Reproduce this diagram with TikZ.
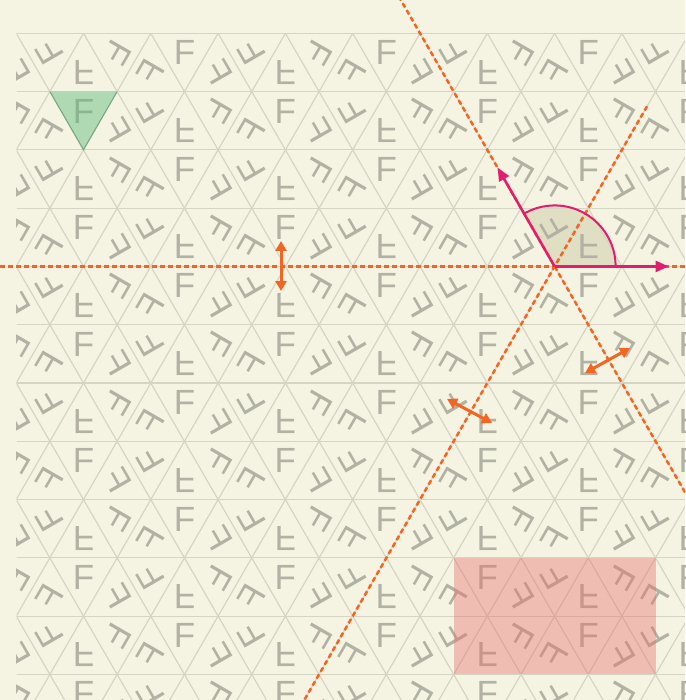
\documentclass[tikz,border=0pt]{standalone}
\usepackage{fontspec}
\setmainfont{Liberation Sans}
\usetikzlibrary{arrows.meta,calc}
\definecolor{paper}{RGB}{245,244,227}
\definecolor{gridline}{RGB}{213,213,197}
\definecolor{glyphgrey}{RGB}{178,178,164}
\definecolor{mirrorcol}{RGB}{242,101,34}
\definecolor{veccol}{RGB}{228,28,110}
\definecolor{cellred}{RGB}{232,108,104}
\definecolor{fundgreen}{RGB}{90,185,120}
\definecolor{sectorcol}{RGB}{200,198,160}
\tikzset{
  glyph/.style={text=glyphgrey, font=\fontsize{35}{35}\selectfont, inner sep=0pt},
  gridedge/.style={gridline, line width=1.2pt},
  mirrorline/.style={mirrorcol, line width=2.5pt, dash pattern=on 5pt off 3pt},
  flipmark/.style={mirrorcol, line width=3pt, {Triangle[length=10pt,width=11pt]}-{Triangle[length=10pt,width=11pt]}},
  vector/.style={veccol, line width=2.5pt, -{Triangle[length=13pt,width=11pt]}},
}
\begin{document}
\begin{tikzpicture}[x=1pt,y=1pt]
  \pgfmathsetmacro{\s}{67.3}
  \pgfmathsetmacro{\h}{\s*0.866025}
  \pgfmathsetmacro{\xo}{16.2}
  \pgfmathsetmacro{\yo}{33.3}
  \useasboundingbox (0,0) rectangle (685,-700);
  \clip (0,0) rectangle (685,-700);
  \fill[paper] (0,0) rectangle (685,-700);

  \coordinate (O) at ({\xo+8*\s},{-(\yo+4*\h)});

  % sector
  \fill[sectorcol, opacity=0.45] (O) -- ++(61,0) arc[start angle=0, end angle=120, radius=61] -- cycle;

  % tiles
  \begin{scope}
    \clip (16.7,-33.3) rectangle (685,-700);
    \foreach \r in {0,...,11} {
      \foreach \u in {-1,...,21} {
        \pgfmathsetmacro{\cx}{\xo+\u*\s/2}
        \pgfmathtruncatemacro{\pty}{mod(\u+\r+100,2)}
        \ifnum\pty=1
          \pgfmathsetmacro{\cy}{-(\yo+\r*\h+\h/3)}
          \pgfmathsetmacro{\ang}{mod(240-120*\u+3600,360)}
          \begin{scope}[shift={(\cx,\cy)}, rotate=\ang]
            \node[glyph, transform shape] (f-\r-\u) {F};
          \end{scope}
        \else
          \pgfmathsetmacro{\cy}{-(\yo+\r*\h+2*\h/3)}
          \pgfmathsetmacro{\ang}{mod(120+120*\u+3600,360)}
          \begin{scope}[shift={(\cx,\cy)}, rotate=\ang, yscale=-1]
            \node[glyph, transform shape] (f-\r-\u) {F};
          \end{scope}
        \fi
      }
    }
    \foreach \r in {0,...,12}
      \draw[gridedge] (0,{-(\yo+\r*\h)}) -- (700,{-(\yo+\r*\h)});
    \foreach \k in {-12,...,22} {
      \draw[gridedge] ({\xo+\k*\s},-\yo) -- ++({6.5*\s},{-13*\h});
      \draw[gridedge] ({\xo+\k*\s},-\yo) -- ++({-6.5*\s},{-13*\h});
    }
  \end{scope}

  % fundamental domain and cell
  \coordinate (G1) at ({\xo+0.5*\s},{-(\yo+\h)});
  \coordinate (G2) at ({\xo+1.5*\s},{-(\yo+\h)});
  \coordinate (G3) at ({\xo+\s},{-(\yo+2*\h)});
  \fill[fundgreen, opacity=0.45] (G1) -- (G2) -- (G3) -- cycle;
  \draw[fundgreen!70!black, opacity=0.5, line width=1pt] (G2) -- (G3) -- (G1);
  \coordinate (C1) at ({\xo+6.5*\s},{-(\yo+9*\h)});
  \coordinate (C2) at ({\xo+9.5*\s},{-(\yo+11*\h)});
  \fill[cellred, opacity=0.4] (C1) rectangle (C2);

  % mirror lines
  \coordinate (mW) at (0,{-(\yo+4*\h)});
  \coordinate (mE) at (700,{-(\yo+4*\h)});
  \draw[mirrorline] (mW) -- (mE);
  \draw[mirrorline] ($(O)+(120:320)$) -- ($(O)+(-60:400)$);
  \draw[mirrorline] ($(O)+(60:185)$) -- ($(O)+(240:520)$);

  % reflection marks
  \coordinate (a1) at (281,-241);
  \coordinate (a2) at (281,-291);
  \coordinate (b1) at (447,-399);
  \coordinate (b2) at (492,-423);
  \coordinate (c1) at (585,-373);
  \coordinate (c2) at (630,-348);
  \draw[flipmark] (a1) -- (a2);
  \draw[flipmark] (b1) -- (b2);
  \draw[flipmark] (c1) -- (c2);

  % translation vectors
  \draw[veccol, line width=2pt] ($(O)+(61,0)$) arc[start angle=0, end angle=120, radius=61];
  \coordinate (T1) at ($(O)+(0:114)$);
  \coordinate (T2) at ($(O)+(120:114)$);
  \draw[vector] (O) -- (T1);
  \draw[vector] (O) -- (T2);
\end{tikzpicture}
\end{document}
